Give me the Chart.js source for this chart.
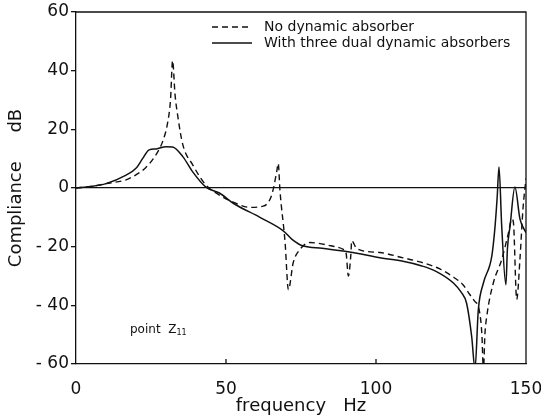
<!DOCTYPE html>
<html>
<head>
<meta charset="utf-8">
<title>Compliance - point Z11</title>
<script src="https://cdn.jsdelivr.net/npm/chart.js@4/dist/chart.umd.min.js"></script>
<style>
  body { margin: 0; background: #fff; }
  canvas { display: block; }
</style>
</head>
<body>
<canvas id="grafico" width="541" height="417"></canvas>
<script>
// Data (frequency in Hz, compliance in dB)
const freqNoAbsorber = [0, 5, 10, 16.7, 20, 23.3, 26.7, 28.9, 30.5, 31.5, 32.2, 33, 34, 35.6, 38.9, 43.3, 47.8,
  52.4, 58, 62.4, 65.2, 66.9, 67.4, 68, 69.7, 70.8, 72.4, 74.7, 78, 84, 89.1, 90, 90.8, 91.6, 91.9, 93.6,
  101.3, 109, 114.7, 121.3, 126, 129, 131.3, 132.8, 134.4, 135.3, 135.8, 136.3, 136.9, 139.1, 141.9, 144, 145.3, 145.8,
  146.9, 148, 149, 150];
const dbNoAbsorber = [0, 0.5, 1.5, 2.8, 4.5, 7, 11.4, 15.9, 22, 30, 43.4, 32, 24, 14.8, 7.9, 1, -2.4,
  -4.8, -6.6, -6.2, -2.5, 5.5, 8.4, -1, -18.6, -34.7, -25.5, -20.9, -18.6, -19.5, -20.9, -22, -30, -23, -18, -20.7,
  -22, -23.8, -25.2, -27.6, -30.5, -33, -36.4, -38.5, -41.6, -50, -62.3, -50, -43.9, -32.4, -24.4, -16, -10.6, -11.7,
  -38, -24, -7, 3.2];

const freqThreeDual = [0, 5, 10, 16.7, 20, 22.2, 24.4, 26.7, 30, 32.2, 35.6, 38.9, 43.3, 47.8, 52.4, 61.3,
  69.1, 72, 75.8, 82, 89.1, 95, 101.3, 109, 115, 120, 125.8, 128.5, 130.2, 131.9, 133, 134.1, 135.8,
  138.6, 139.7, 140.4, 141, 141.9, 143.3, 143.8, 144.7, 146.3, 148, 150];
const dbThreeDual = [0, 0.5, 1.5, 4.4, 6.7, 10, 13, 13.3, 14.1, 14, 10.7, 5.5, 0.3, -1.7, -5.2, -10,
  -14.6, -17.5, -19.8, -20.5, -21.5, -22.5, -23.8, -25, -26.5, -28.4, -32.4, -35.7, -39.3, -50.7, -61.7, -41.6, -32.4,
  -23.2, -12.9, -3, 7.2, -12.9, -33, -20.9, -12.9, 0.3, -10.6, -15.2];

const xTicks = [0, 50, 100, 150];
const yTicks = [-60, -40, -20, 0, 20, 40, 60];

const FONT = '"DejaVu Sans", sans-serif';
const INK = '#111';

const punti = (xs, ys) => xs.map((x, i) => ({ x, y: ys[i] }));

// frame, legend, "point Z11" note, inward x ticks
const extraPlugin = {
  id: 'extra',
  afterDraw(chart) {
    const { ctx, chartArea } = chart;
    ctx.save();

    // top and right side of the frame
    ctx.strokeStyle = INK;
    ctx.lineWidth = 1.3;
    ctx.beginPath();
    ctx.moveTo(chartArea.left, chartArea.top);
    ctx.lineTo(chartArea.right, chartArea.top);
    ctx.lineTo(chartArea.right, chartArea.bottom);
    ctx.stroke();

    // small ticks pointing up from the frequency axis
    const sx = chart.scales.x;
    sx.ticks.forEach(t => {
      if (t.value <= sx.min || t.value >= sx.max) return;
      const px = sx.getPixelForValue(t.value);
      ctx.beginPath();
      ctx.moveTo(px, chartArea.bottom);
      ctx.lineTo(px, chartArea.bottom - 5);
      ctx.stroke();
    });

    // legend inside the frame, top right
    ctx.font = '14px ' + FONT;
    ctx.fillStyle = INK;
    ctx.textBaseline = 'middle';
    chart.data.datasets.forEach((ds, i) => {
      const y = chartArea.top + 15 + i * 16;
      const x0 = chartArea.left + 136;
      ctx.beginPath();
      ctx.setLineDash(ds.borderDash || []);
      ctx.lineWidth = ds.borderWidth;
      ctx.strokeStyle = ds.borderColor;
      ctx.moveTo(x0, y);
      ctx.lineTo(x0 + 40, y);
      ctx.stroke();
      ctx.fillText(ds.label, x0 + 52, y);
    });
    ctx.setLineDash([]);

    // note
    ctx.textBaseline = 'alphabetic';
    ctx.font = '12px ' + FONT;
    const nx = chartArea.left + 54;
    const ny = chartArea.bottom - 31;
    const testo = 'point  Z';
    ctx.fillText(testo, nx, ny);
    const w = ctx.measureText(testo).width;
    ctx.font = '8px ' + FONT;
    ctx.fillText('11', nx + w, ny + 2);

    ctx.restore();
  }
};

new Chart(document.getElementById('grafico'), {
  type: 'line',
  data: {
    datasets: [
      {
        label: 'No dynamic absorber',
        data: punti(freqNoAbsorber, dbNoAbsorber),
        borderColor: INK,
        borderWidth: 1.4,
        borderDash: [6, 4],
        pointRadius: 0,
        cubicInterpolationMode: 'monotone'
      },
      {
        label: 'With three dual dynamic absorbers',
        data: punti(freqThreeDual, dbThreeDual),
        borderColor: INK,
        borderWidth: 1.5,
        pointRadius: 0,
        cubicInterpolationMode: 'monotone'
      }
    ]
  },
  options: {
    responsive: false,
    animation: false,
    layout: { padding: { top: 12, right: 15, left: 0, bottom: 0 } },
    plugins: {
      legend: { display: false },
      tooltip: { enabled: false }
    },
    scales: {
      x: {
        type: 'linear',
        min: xTicks[0],
        max: xTicks[xTicks.length - 1],
        afterBuildTicks: s => { s.ticks = xTicks.map(v => ({ value: v })); },
        afterFit: s => { s.height = 53; s.paddingLeft = 0; s.paddingRight = 0; },
        border: { display: true, color: INK, width: 1.3 },
        grid: { display: false },
        ticks: { color: INK, padding: 7, font: { family: FONT, size: 17 } },
        title: {
          display: true,
          text: 'frequency   Hz',
          color: INK,
          font: { family: FONT, size: 18 },
          padding: { top: 0, bottom: 0 }
        }
      },
      y: {
        min: yTicks[0],
        max: yTicks[yTicks.length - 1],
        afterBuildTicks: s => { s.ticks = yTicks.map(v => ({ value: v })); },
        afterFit: s => { s.width = 76; s.paddingTop = 0; s.paddingBottom = 0; },
        border: { display: true, color: INK, width: 1.3 },
        grid: {
          tickLength: 5,
          tickColor: INK,
          lineWidth: 1.3,
          color: c => (c.tick && c.tick.value === 0 ? INK : 'rgba(0,0,0,0)')
        },
        ticks: {
          color: INK,
          padding: 2,
          font: { family: FONT, size: 17 },
          callback: v => (v < 0 ? '- ' + (-v) : String(v))
        },
        title: {
          display: true,
          text: 'Compliance     dB',
          color: INK,
          font: { family: FONT, size: 18 },
          padding: { top: 6, bottom: 0 }
        }
      }
    }
  },
  plugins: [extraPlugin]
});
</script>
</body>
</html>
